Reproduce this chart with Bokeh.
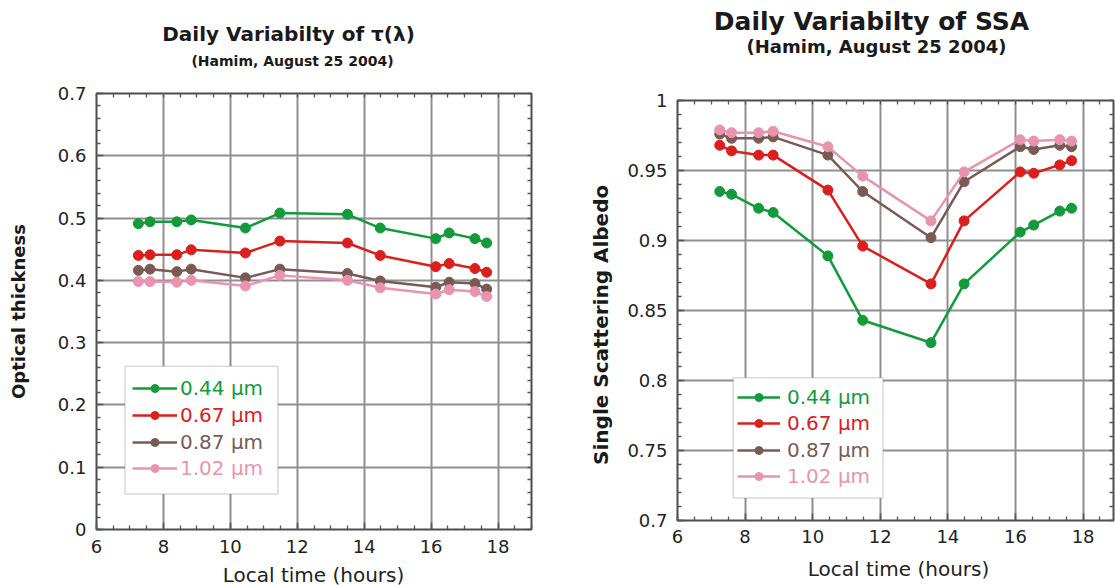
import math
import numpy as np
from bokeh.plotting import figure
from bokeh.layouts import row, column
from bokeh.models import (Range1d, FixedTicker, NumeralTickFormatter, LinearAxis,
                          Legend, LegendItem, BoxAnnotation, Label)
from bokeh.core.properties import value
from bokeh.embed import file_html
from bokeh.resources import INLINE

# ---------------- data ----------------
hours = [7.25, 7.6, 8.4, 8.83, 10.45, 11.48, 13.5, 14.48, 16.14, 16.54, 17.31, 17.66]
wavelengths = ["0.44 μm", "0.67 μm", "0.87 μm", "1.02 μm"]

tau_044 = [0.491, 0.494, 0.494, 0.497, 0.484, 0.508, 0.506, 0.484, 0.467, 0.476, 0.467, 0.460]
tau_067 = [0.440, 0.441, 0.441, 0.449, 0.444, 0.463, 0.460, 0.440, 0.422, 0.427, 0.419, 0.413]
tau_087 = [0.416, 0.418, 0.414, 0.418, 0.404, 0.418, 0.411, 0.399, 0.389, 0.397, 0.395, 0.386]
tau_102 = [0.398, 0.398, 0.397, 0.400, 0.391, 0.408, 0.400, 0.388, 0.378, 0.385, 0.382, 0.374]

ssa_044 = [0.935, 0.933, 0.923, 0.920, 0.889, 0.843, 0.827, 0.869, 0.906, 0.911, 0.921, 0.923]
ssa_067 = [0.968, 0.964, 0.961, 0.961, 0.936, 0.896, 0.869, 0.914, 0.949, 0.948, 0.954, 0.957]
ssa_087 = [0.976, 0.973, 0.973, 0.974, 0.961, 0.935, 0.902, 0.942, 0.967, 0.965, 0.968, 0.967]
ssa_102 = [0.979, 0.977, 0.977, 0.978, 0.967, 0.946, 0.914, 0.949, 0.972, 0.971, 0.972, 0.971]

x_ticks = [6, 8, 10, 12, 14, 16, 18]
tau_ticks = [0, 0.1, 0.2, 0.3, 0.4, 0.5, 0.6, 0.7]
ssa_ticks = [0.7, 0.75, 0.8, 0.85, 0.9, 0.95, 1.0]

COLORS = ["#139a3c", "#d9201e", "#7a5a55", "#e994ae"]
FONT = "DejaVu Sans"
TEXT = "#1a1a1a"

x_minor = [float(v) for v in np.arange(6, 19.01, 0.5)]
tau_minor = [float(v) for v in np.round(np.arange(0, 0.701, 0.02), 3)]
ssa_minor = [float(v) for v in np.round(np.arange(0.7, 1.0001, 0.01), 3)]


def text_fig(width, height, texts):
    """A bare figure that only carries text (titles, axis titles)."""
    f = figure(width=width, height=height, output_backend="svg", toolbar_location=None,
               x_range=Range1d(0, width), y_range=Range1d(0, height),
               x_axis_type=None, y_axis_type=None,
               min_border=0, min_border_left=0, min_border_right=0,
               min_border_top=0, min_border_bottom=0)
    f.title.visible = False
    f.outline_line_color = None
    f.background_fill_color = "white"
    f.border_fill_color = "white"
    for (x, y_from_top, txt, size, style, angle, col) in texts:
        f.add_layout(Label(x=x, y=height - y_from_top, text=txt, text_font=FONT,
                           text_font_size=f"{size}px", text_font_style=style,
                           text_color=col, text_align="center", text_baseline="middle",
                           angle=angle))
    return f


def style_axis(ax, ticks, minor, standoff, fmt=None):
    ax.ticker = FixedTicker(ticks=ticks, minor_ticks=minor)
    ax.axis_line_color = None
    ax.major_tick_in = 7
    ax.major_tick_out = 0
    ax.minor_tick_in = 4
    ax.minor_tick_out = 0
    ax.major_tick_line_color = "#555555"
    ax.minor_tick_line_color = "#555555"
    ax.major_tick_line_width = 1.5
    ax.minor_tick_line_width = 1.3
    if fmt is not None:
        ax.formatter = NumeralTickFormatter(format=fmt)
    ax.major_label_text_font = FONT
    ax.major_label_text_font_size = "18px"
    ax.major_label_text_color = "#222222"
    ax.major_label_standoff = standoff


def main_fig(width, height, border_l, border_r, border_t, border_b, x_end,
             y_start, y_end, y_ticks, y_minor, y_fmt, x_standoff, series,
             box, leg_x, leg_ys, glyph_w, leg_standoff):
    p = figure(width=width, height=height, output_backend="svg", toolbar_location=None,
               x_range=Range1d(6, x_end), y_range=Range1d(y_start, y_end),
               min_border_left=border_l, min_border_right=border_r,
               min_border_top=border_t, min_border_bottom=border_b)
    p.title.visible = False
    p.outline_line_color = "#4d4d4d"
    p.outline_line_width = 2
    p.background_fill_color = "white"
    p.border_fill_color = "white"

    style_axis(p.xaxis[0], x_ticks, x_minor, x_standoff)
    style_axis(p.yaxis[0], y_ticks, y_minor, 10, fmt=y_fmt)

    top = LinearAxis()
    style_axis(top, [], x_minor, 0)
    p.add_layout(top, "above")
    right = LinearAxis()
    style_axis(right, [], y_minor, 0)
    p.add_layout(right, "right")

    p.xgrid.ticker = FixedTicker(ticks=x_ticks)
    p.ygrid.ticker = FixedTicker(ticks=y_ticks)
    for g in (p.xgrid, p.ygrid):
        g.grid_line_color = "#8f8f8f"
        g.grid_line_width = 2

    rends = []
    for vals, col in zip(series, COLORS):
        l = p.line(hours, vals, line_color=col, line_width=2.5)
        s = p.scatter(hours, vals, size=10, fill_color=col, line_color=col)
        rends.append([l, s])

    p.add_layout(BoxAnnotation(left=box[0], right=box[1], bottom=box[2], top=box[3],
                               fill_color="white", fill_alpha=1.0,
                               line_color="#808080", line_width=1.5))
    for r, lab, col, vy in zip(rends, wavelengths, COLORS, leg_ys):
        leg = Legend(items=[LegendItem(label=value(lab), renderers=r)],
                     location=(leg_x, vy), orientation="vertical",
                     padding=0, margin=0, spacing=0,
                     glyph_width=glyph_w, glyph_height=20, label_height=20,
                     label_standoff=leg_standoff,
                     label_text_font=FONT, label_text_font_size="20px",
                     label_text_color=col,
                     border_line_color=None, background_fill_alpha=0)
        p.add_layout(leg)
    return p


# ---------------- left panel: optical thickness ----------------
L_title = text_fig(560, 79, [
    (288, 33, "Daily Variabilty of τ(λ)", 20, "bold", 0, TEXT),
    (292, 60, "(Hamim, August 25 2004)", 14, "bold", 0, TEXT)])
L_ylab = text_fig(40, 484, [
    (18, 242, "Optical thickness", 18, "bold", math.pi / 2, TEXT)])
L_main = main_fig(520, 484, 56, 29, 14, 34, 19, 0, 0.7, tau_ticks, tau_minor, "0.[0]", 10,
                  [tau_044, tau_067, tau_087, tau_102],
                  (6.85, 11.42, 0.057, 0.262), 36, [129, 102, 75, 49], 45, 3)
L_xlab = text_fig(560, 22, [
    (313, 11, "Local time (hours)", 20, "normal", 0, "#222222")])
left_block = column(L_title, row(L_ylab, L_main), L_xlab)

# ---------------- right panel: single scattering albedo ----------------
R_title = text_fig(555, 86, [
    (311, 21, "Daily Variabilty of SSA", 25, "bold", 0, TEXT),
    (316, 46, "(Hamim, August 25 2004)", 18, "bold", 0, TEXT)])
R_ylab = text_fig(60, 468, [
    (40, 250, "Single Scattering Albedo", 20, "bold", math.pi / 2, TEXT)])
R_main = main_fig(495, 468, 57, 2, 14, 34, 18.9, 0.7, 1.0, ssa_ticks, ssa_minor, "0.[00]", 9,
                  [ssa_044, ssa_067, ssa_087, ssa_102],
                  (7.65, 12.08, 0.716, 0.802), 60, [111, 85, 58, 32], 43, 7)
R_xlab = text_fig(555, 31, [
    (338, 14, "Local time (hours)", 20, "normal", 0, "#222222")])
right_block = column(R_title, row(R_ylab, R_main), R_xlab)

layout = row(left_block, right_block)
open("out.html", "w").write(file_html(layout, INLINE))
